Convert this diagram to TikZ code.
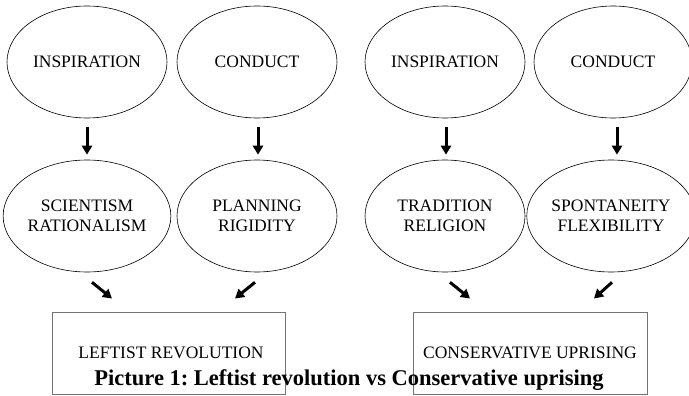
\documentclass[tikz,border=0pt]{standalone}
\usepackage{fontspec}
\setmainfont{Liberation Serif}
\usetikzlibrary{shapes.geometric,arrows.meta,calc}
\frenchspacing
\begin{document}
\begin{tikzpicture}[x=1pt,y=-1pt,
  oval/.style={ellipse,draw=black,line width=0.6pt,minimum width=160pt,minimum height=112pt,inner sep=0pt,align=center,font=\fontsize{17.5}{20}\selectfont},
  bigarrow/.style={line width=3pt,-{Triangle[length=9pt,width=10pt]}},
  outbox/.style={draw=black!55,line width=1pt,minimum width=233pt,minimum height=82pt,inner sep=0pt},
  boxtext/.style={font=\fontsize{17.5}{20}\selectfont,anchor=base,inner sep=0pt},
  caption/.style={font=\fontsize{22.5}{26}\selectfont\bfseries,anchor=base,inner sep=0pt}
  ]
\useasboundingbox (0,0) rectangle (689,396);
% top row
\node[oval] (i1) at (87,62) {INSPIRATION};
\node[oval] (c1) at (257,62) {CONDUCT};
\node[oval] (i2) at (445,62) {INSPIRATION};
\node[oval,minimum width=158pt] (c2) at (613,62) {CONDUCT};
% second row
\node[oval] (s1) at (87,216) {SCIENTISM\\RATIONALISM};
\node[oval] (s2) at (257,216) {PLANNING\\RIGIDITY};
\node[oval] (s3) at (445,216) {TRADITION\\RELIGION};
\node[oval,minimum width=152pt] (s4) at (611,216) {SPONTANEITY\\FLEXIBILITY};
% boxes
\node[outbox] (b1) at (168.5,353) {};
\node[outbox,minimum width=234pt] (b2) at (530,353) {};
\node[boxtext] (t1) at ($(b1.north)+(2.5,47)$) {LEFTIST REVOLUTION};
\node[boxtext] (t2) at ($(b2.north)+(0,47)$) {CONSERVATIVE UPRISING};
\node[caption] (cap) at (349,385) {Picture 1: Leftist revolution vs Conservative uprising};
% vertical arrows
\draw[bigarrow] ($(i1.south)+(0,9)$) -- ($(s1.north)+(0,-5)$);
\draw[bigarrow] ($(c1.south)+(1,9)$) -- ($(s2.north)+(1,-5)$);
\draw[bigarrow] ($(i2.south)+(1,9)$) -- ($(s3.north)+(1,-5)$);
\draw[bigarrow] ($(c2.south)+(4,9)$) -- ($(s4.north)+(6,-5)$);
% diagonal arrows
\draw[bigarrow] ($(s1.south)+(5,10)$) -- ($(b1.north)+(-56.5,-13)$);
\draw[bigarrow] ($(s2.south)+(-2,10)$) -- ($(b1.north)+(66.5,-13)$);
\draw[bigarrow] ($(s3.south)+(5,10)$) -- ($(b2.north)+(-60,-13)$);
\draw[bigarrow] ($(s4.south)+(1,10)$) -- ($(b2.north)+(64,-13)$);
\end{tikzpicture}
\end{document}
